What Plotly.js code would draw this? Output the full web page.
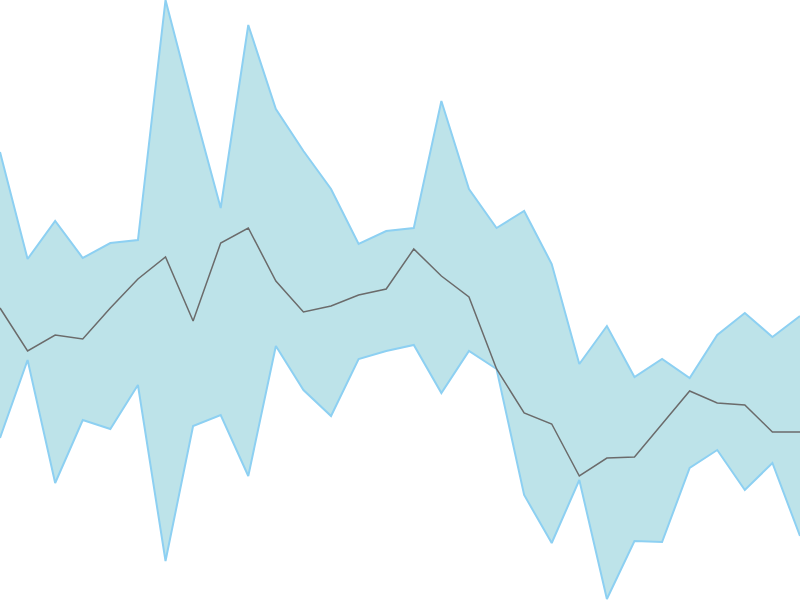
<!DOCTYPE html>
<html>
<head>
<meta charset="utf-8">
<script src="https://cdn.plot.ly/plotly-3.0.1.min.js"></script>
<style>
  html, body { margin: 0; padding: 0; background: #fff; }
  #myDiv { width: 800px; height: 600px; }
</style>
</head>
<body>
<div id="myDiv"></div>
<script>
// posiciones (indices de 0 a 29)
var xs = [0,1,2,3,4,5,6,7,8,9,10,11,12,13,14,15,16,17,18,19,20,21,22,23,24,25,26,27,28,29];

// banda superior, media y banda inferior
var upper = [448,341,379,342,357,360,600,494,392,575,491,449,411,356,369,372,499,411,372,389,336,236,274,223,241,222,265,287,263,284];
var middle = [292,249,265,261,292,321,343,279,357,372,319,288,294,305,311,351,324,303,231,187,176,124,142,143,176,209,197,195,168,168];
var lower = [162,240,117,180,171,215,39,174,185,124,254,210,184,241,249,255,207,249,231,105,57,120,1,59,58,132,150,110,137,64];

var trace_upper = {
  x: xs, y: upper,
  mode: 'lines',
  line: { color: '#8dd0f2', width: 2 },
  hoverinfo: 'skip',
  type: 'scatter'
};

var trace_lower = {
  x: xs, y: lower,
  mode: 'lines',
  fill: 'tonexty',
  fillcolor: 'rgb(189,227,233)',
  line: { color: '#8dd0f2', width: 2 },
  hoverinfo: 'skip',
  type: 'scatter'
};

var trace_middle = {
  x: xs, y: middle,
  mode: 'lines',
  line: { color: '#6b6b6b', width: 1.5 },
  type: 'scatter'
};

var data = [trace_upper, trace_lower, trace_middle];
var layout = {
  width: 800,
  height: 600,
  showlegend: false,
  paper_bgcolor: '#fff',
  plot_bgcolor: '#fff',
  xaxis: { range: [0, 29], visible: false, fixedrange: true },
  yaxis: { range: [0, 600], visible: false, fixedrange: true },
  margin: { l: 0, r: 0, b: 0, t: 0 }
};
Plotly.newPlot('myDiv', data, layout, { staticPlot: true });
</script>
</body>
</html>
